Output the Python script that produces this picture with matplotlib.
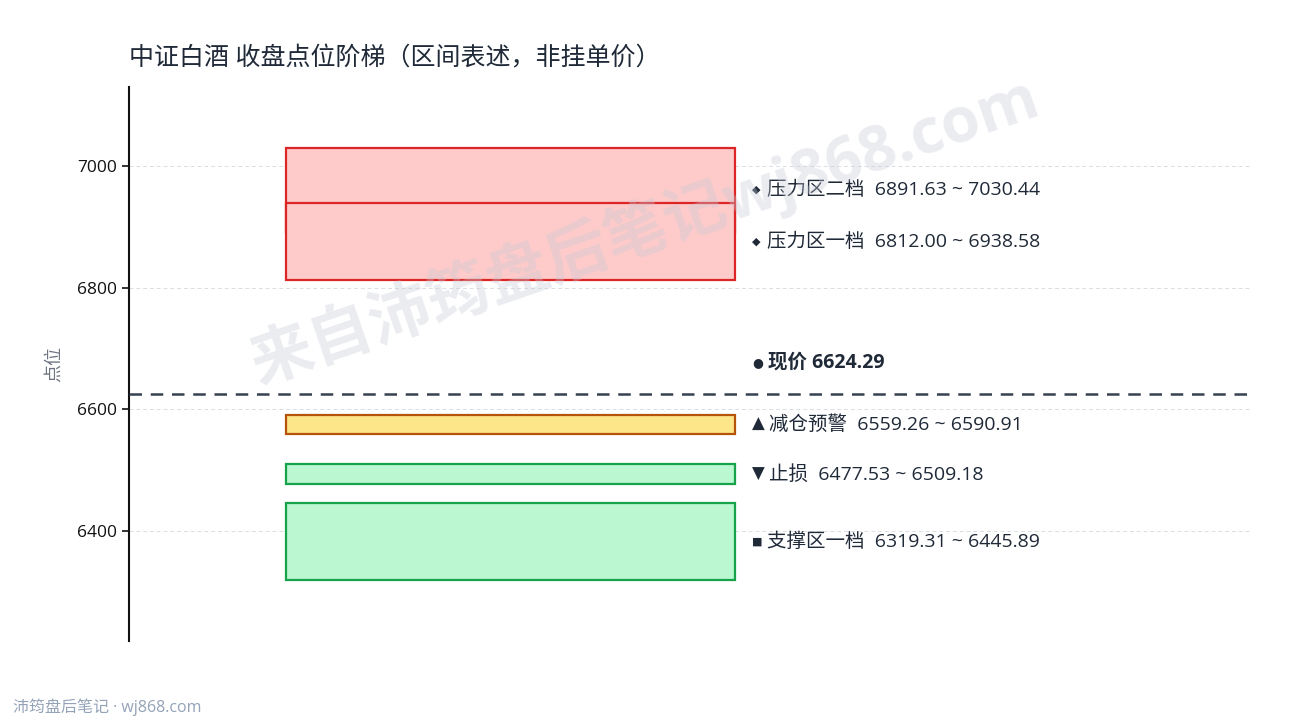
import matplotlib
matplotlib.use("Agg")
import matplotlib.pyplot as plt
from matplotlib.patches import Rectangle

plt.rcParams['font.family'] = ['Open Sans', 'Noto Sans CJK SC', 'DejaVu Sans']

title = "中证白酒 收盘点位阶梯（区间表述，非挂单价）"
price = 6624.29

# zones: name, low, high, marker, fill, edge
zone_names = ["压力区二档", "压力区一档", "减仓预警", "止损", "支撑区一档"]
zone_low = [6891.63, 6812.00, 6559.26, 6477.53, 6319.31]
zone_high = [7030.44, 6938.58, 6590.91, 6509.18, 6445.89]
zone_marks = ["◆", "◆", "▲", "▼", "■"]
zone_fill = ["#fecaca", "#fecaca", "#fde68a", "#bbf7d0", "#bbf7d0"]
zone_edge = ["#dc2626", "#dc2626", "#b45309", "#16a34a", "#16a34a"]

yticks = [6400, 6600, 6800, 7000]

fig = plt.figure(figsize=(12.9, 7.2), dpi=100)
ax = fig.add_axes([0.1, 0.11, 0.869, 0.769])

x0, x1 = 0.14, 0.541
for i in range(len(zone_names)):
    lo, hi = zone_low[i], zone_high[i]
    ax.add_patch(Rectangle((x0, lo), x1 - x0, hi - lo, facecolor=zone_fill[i],
                           edgecolor=zone_edge[i], linewidth=1.6, zorder=2))
    mk = zone_marks[i]
    mfs = 8 if mk in ("◆", "■") else 12
    ym = (lo + hi) / 2
    ax.text(0.556, ym, mk, fontsize=mfs, color="#1f2937", va="center", ha="left",
            family=['DejaVu Sans'])
    ax.text(0.569 if mk in ("◆", "■") else 0.571, ym,
            f"{zone_names[i]}  {lo:.2f} ~ {hi:.2f}",
            fontsize=14, color="#1f2937", va="center", ha="left")

ax.axhline(price, color="#374151", linestyle=(0, (5, 3.5)), linewidth=1.8, zorder=3)
ax.text(0.556, price + 53, "●", fontsize=9, color="#1f2937", va="center", ha="left",
        family=['DejaVu Sans'])
ax.text(0.57, price + 53, f"现价 {price:.2f}", fontsize=14, fontweight="bold",
        color="#1f2937", va="center", ha="left")

ax.set_xlim(0, 1)
ax.set_ylim(6219, 7130)
ax.set_yticks(yticks)
ax.set_xticks([])
ax.tick_params(axis='y', labelsize=12.5, length=5, width=1.2, colors="#111111")
ax.grid(axis='y', color="#d1d5db", linestyle=(0, (4, 3)), linewidth=0.7, alpha=0.8)
ax.set_axisbelow(True)
for s in ["top", "right", "bottom"]:
    ax.spines[s].set_visible(False)
ax.spines["left"].set_linewidth(1.5)
ax.spines["left"].set_color("#111111")
ax.set_ylabel("点位", fontsize=13, color="#6b7280", labelpad=10)

fig.text(0.1, 0.918, title, fontsize=18, color="#1f2937", ha="left", va="center")
fig.text(0.01, 0.018, "沛筠盘后笔记 · wj868.com", fontsize=11.5, color="#94a3b8",
         ha="left", va="center")

fig.text(0.5, 0.68, "来自沛筠盘后笔记wj868.com", fontsize=45, fontweight="bold",
         color="#c7cad6", alpha=0.35, rotation=19, ha="center", va="center", zorder=10)

fig.savefig("out.png", dpi=100)
